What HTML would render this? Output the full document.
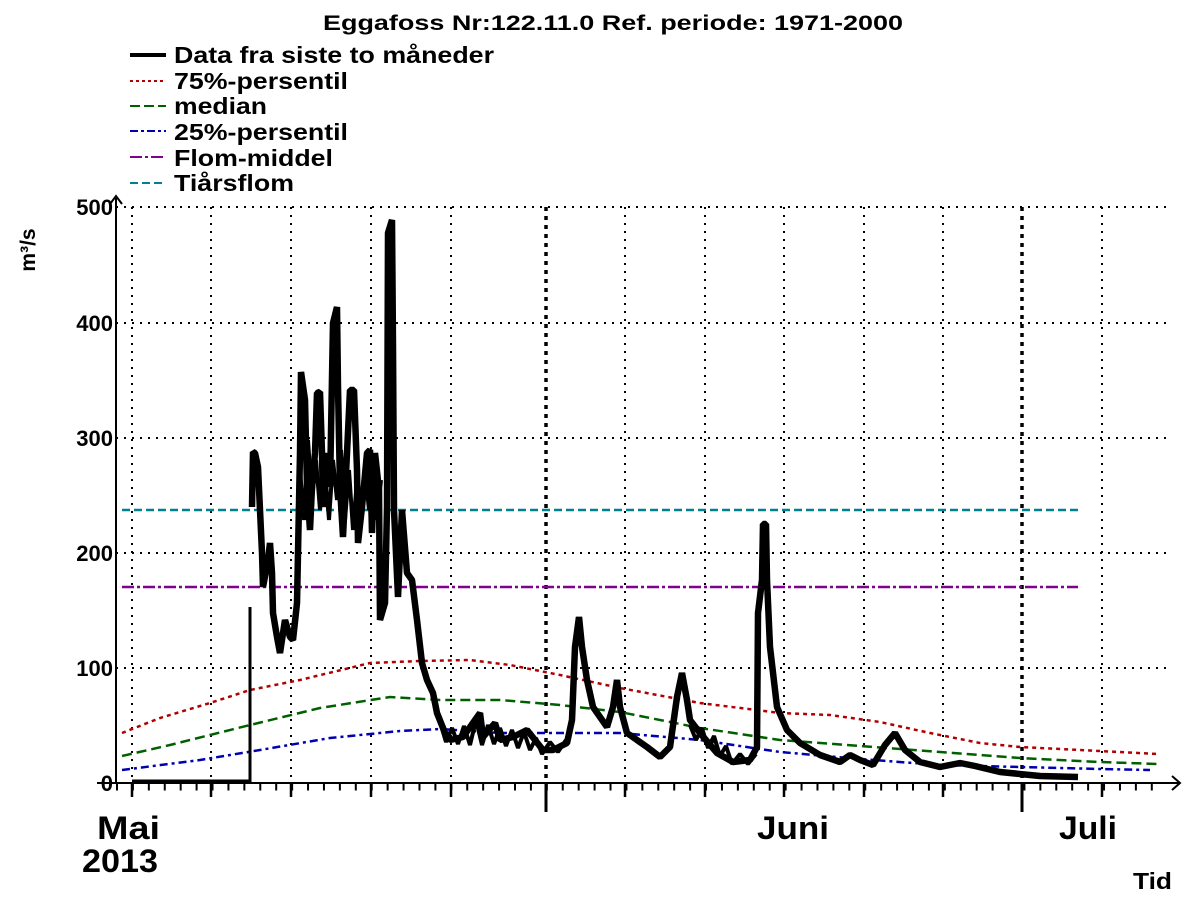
<!DOCTYPE html>
<html><head><meta charset="utf-8"><style>
html,body{margin:0;padding:0;background:#fff;}
svg{display:block;}
text{font-family:"Liberation Sans",sans-serif;font-weight:bold;fill:#000;}
</style></head><body>
<svg width="1200" height="900" viewBox="0 0 1200 900" xmlns="http://www.w3.org/2000/svg">
<rect width="1200" height="900" fill="#fff"/>
<text x="323" y="30" font-size="21" textLength="580" lengthAdjust="spacingAndGlyphs">Eggafoss Nr:122.11.0 Ref. periode: 1971-2000</text>
<g font-size="23">
<line x1="130" y1="55" x2="166" y2="55" stroke="#000" stroke-width="4"/>
<text x="174" y="63" textLength="320" lengthAdjust="spacingAndGlyphs">Data fra siste to måneder</text>
<line x1="130" y1="81" x2="166" y2="81" stroke="#b00000" stroke-width="2" stroke-dasharray="3,3"/>
<text x="174" y="89" textLength="174" lengthAdjust="spacingAndGlyphs">75%-persentil</text>
<line x1="130" y1="106" x2="166" y2="106" stroke="#006000" stroke-width="2" stroke-dasharray="10,4"/>
<text x="174" y="114" textLength="93" lengthAdjust="spacingAndGlyphs">median</text>
<line x1="130" y1="131" x2="166" y2="131" stroke="#0000b0" stroke-width="2" stroke-dasharray="8,3,3,3"/>
<text x="174" y="140" textLength="174" lengthAdjust="spacingAndGlyphs">25%-persentil</text>
<line x1="130" y1="157" x2="166" y2="157" stroke="#800090" stroke-width="2" stroke-dasharray="12,3,3,3"/>
<text x="174" y="166" textLength="159" lengthAdjust="spacingAndGlyphs">Flom-middel</text>
<line x1="130" y1="183" x2="166" y2="183" stroke="#008090" stroke-width="2" stroke-dasharray="8,4"/>
<text x="174" y="191" textLength="120" lengthAdjust="spacingAndGlyphs">Tiårsflom</text>
</g>
<!-- grid -->
<g stroke="#000" stroke-width="2" stroke-dasharray="2,6">
<line x1="116" y1="668" x2="1166" y2="668"/>
<line x1="116" y1="553" x2="1166" y2="553"/>
<line x1="116" y1="438" x2="1166" y2="438"/>
<line x1="116" y1="323" x2="1166" y2="323"/>
<line x1="116" y1="207" x2="1166" y2="207"/>
<line x1="132" y1="207" x2="132" y2="783"/>
<line x1="211" y1="207" x2="211" y2="783"/>
<line x1="291" y1="207" x2="291" y2="783"/>
<line x1="371" y1="207" x2="371" y2="783"/>
<line x1="451" y1="207" x2="451" y2="783"/>
<line x1="625" y1="207" x2="625" y2="783"/>
<line x1="705" y1="207" x2="705" y2="783"/>
<line x1="784" y1="207" x2="784" y2="783"/>
<line x1="864" y1="207" x2="864" y2="783"/>
<line x1="943" y1="207" x2="943" y2="783"/>
<line x1="1102" y1="207" x2="1102" y2="783"/>
</g>
<g stroke="#000" stroke-width="3.5" stroke-dasharray="4,5">
<line x1="546" y1="207" x2="546" y2="783"/>
<line x1="1022" y1="207" x2="1022" y2="783"/>
</g>
<!-- reference lines -->
<line x1="122" y1="587" x2="1078" y2="587" stroke="#800090" stroke-width="2.5" stroke-dasharray="12,3,3,3"/>
<line x1="122" y1="510" x2="1078" y2="510" stroke="#008090" stroke-width="2.5" stroke-dasharray="8,4"/>
<polyline fill="none" stroke="#b00000" stroke-width="2.5" stroke-dasharray="4,4" points="122,733 160,718 210,703 250,690 300,680 370,663 420,661 470,660 510,665 560,675 620,688 700,703 780,713 830,715 880,722 930,733 980,743 1020,747 1080,750 1158,754"/>
<polyline fill="none" stroke="#006000" stroke-width="2.5" stroke-dasharray="10,5" points="122,756 170,745 250,725 320,708 390,697 440,700 500,700 560,705 620,712 700,728 780,740 860,746 940,752 1020,758 1100,762 1158,764"/>
<polyline fill="none" stroke="#0000b0" stroke-width="2.5" stroke-dasharray="8,4,3,4" points="122,770 200,760 260,750 330,738 400,731 440,729 500,733 560,733 620,733 700,740 780,752 860,759 940,765 1020,767 1100,769 1150,770"/>
<!-- data -->
<polyline fill="none" stroke="#000" stroke-width="3" points="132,781 250,781 250,607"/>
<polyline fill="none" stroke="#000" stroke-width="6.5" stroke-linejoin="bevel" points="252,507 253,452 255,453 258,467 260,510 262,553 263,587 268,560 270,543 272,573 273,613 277,637 280,653 285,620 290,637 293,640 297,603 298,553 300,453 301,372 305,400 307,487 310,530 312,487 315,453 317,393 320,392 322,453 323,507 327,453 330,487 333,323 337,307 338,387 340,487 343,537 347,453 350,390 354,390 357,470 358,543 362,507 367,453 370,450 372,533 375,453 379,490 380,620 385,603 387,507 388,233 392,220 393,347 394,510 398,597 402,510 407,573 412,580 417,620 422,663 427,680 433,693 437,713 445,733 450,740 463,737 480,713 483,737 495,723 500,740 513,737 527,730 543,750 553,750 567,743 572,720 575,647 579,617 582,647 587,680 593,707 607,727 613,707 617,680 620,707 627,733 647,747 660,757 670,747 677,697 682,673 687,700 690,720 700,733 717,753 733,762 750,760 757,747 758,613 762,580 763,524 766,524 767,580 770,647 777,707 787,730 800,743 820,755 840,762 850,755 860,760 873,765 885,745 895,733 905,750 920,762 940,767 960,763 975,766 1000,772 1040,776 1078,777"/>
<!-- extra noise to thicken dense regions -->
<polyline fill="none" stroke="#000" stroke-width="4" stroke-linejoin="bevel" points="300,470 304,520 308,440 312,500 316,460 320,510 325,470 329,520 333,460 337,500 341,450 345,520 349,470 353,530 357,480 361,520 365,470 369,510 373,470 377,520 381,480"/>
<polyline fill="none" stroke="#000" stroke-width="4" stroke-linejoin="bevel" points="440,722 446,742 452,728 458,744 464,726 470,745 476,720 482,745 488,725 494,744 500,728 506,746 512,730 518,748 524,732 530,750 536,738 542,754 550,742 558,752 566,740"/>
<polyline fill="none" stroke="#000" stroke-width="4" stroke-linejoin="bevel" points="690,725 696,740 702,728 708,748 714,736 720,756 726,746 732,764 740,754 748,764 756,754"/>
<!-- axes -->
<line x1="116" y1="783" x2="116" y2="198" stroke="#000" stroke-width="2"/>
<polyline fill="none" stroke="#000" stroke-width="2" points="110,204 116,196 122,204"/>
<line x1="97" y1="783" x2="1180" y2="783" stroke="#000" stroke-width="2"/>
<polyline fill="none" stroke="#000" stroke-width="2" points="1172,776 1180,783 1172,790"/>
<line x1="116" y1="787" x2="1160" y2="787" stroke="#000" stroke-width="7" stroke-dasharray="2,13.92"/>
<g stroke="#000" stroke-width="2.5">
<line x1="132" y1="783" x2="132" y2="797"/><line x1="211" y1="783" x2="211" y2="797"/><line x1="291" y1="783" x2="291" y2="797"/><line x1="371" y1="783" x2="371" y2="797"/><line x1="451" y1="783" x2="451" y2="797"/><line x1="625" y1="783" x2="625" y2="797"/><line x1="705" y1="783" x2="705" y2="797"/><line x1="784" y1="783" x2="784" y2="797"/><line x1="864" y1="783" x2="864" y2="797"/><line x1="943" y1="783" x2="943" y2="797"/><line x1="1102" y1="783" x2="1102" y2="797"/>
</g>
<g stroke="#000" stroke-width="3">
<line x1="546" y1="783" x2="546" y2="812"/><line x1="1022" y1="783" x2="1022" y2="812"/>
</g>
<g font-size="22" text-anchor="end">
<text x="113" y="791">0</text>
<text x="113" y="676">100</text>
<text x="113" y="561">200</text>
<text x="113" y="446">300</text>
<text x="113" y="331">400</text>
<text x="113" y="215">500</text>
</g>
<text transform="translate(35,250) rotate(-90)" font-size="21" text-anchor="middle">m³/s</text>
<g font-size="32">
<text x="97" y="839" textLength="63" lengthAdjust="spacingAndGlyphs">Mai</text>
<text x="82" y="872" textLength="76" lengthAdjust="spacingAndGlyphs">2013</text>
<text x="757" y="839" textLength="72" lengthAdjust="spacingAndGlyphs">Juni</text>
<text x="1059" y="839" textLength="58" lengthAdjust="spacingAndGlyphs">Juli</text>
</g>
<text x="1133" y="889" font-size="23" textLength="39" lengthAdjust="spacingAndGlyphs">Tid</text>
</svg>
</body></html>
